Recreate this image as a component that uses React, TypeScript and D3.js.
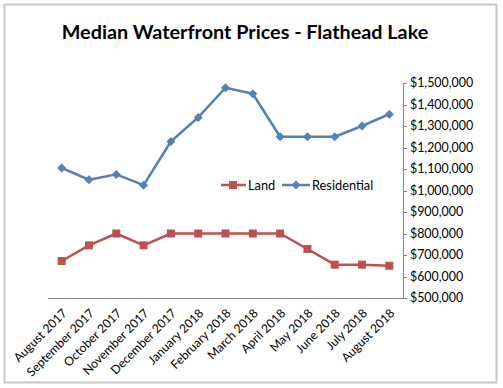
import React from "react";
import * as d3 from "d3";

const months = [
  "August 2017", "September 2017", "October 2017", "November 2017", "December 2017",
  "January 2018", "February 2018", "March 2018", "April 2018", "May 2018",
  "June 2018", "July 2018", "August 2018",
];
const landValues = [672000, 745000, 800000, 745000, 800000, 800000, 800000, 800000, 800000, 728000, 655000, 655000, 650000];
const residentialValues = [1105000, 1050000, 1075000, 1025000, 1228000, 1340000, 1478000, 1450000, 1250000, 1250000, 1250000, 1300000, 1355000];
const yTicks = [500000, 600000, 700000, 800000, 900000, 1000000, 1100000, 1200000, 1300000, 1400000, 1500000];

const W = 503, H = 388;
const LAND = "#C0504D", RES = "#4F81BD";

export default function App() {
  const x = d3.scaleBand<string>().domain(months).range([48, 403]);
  const y = d3.scaleLinear().domain([500000, 1500000]).range([298, 83]);
  const fmt = (v: number) => "$" + d3.format(",")(v);
  const line = d3.line<number>().x((_, i) => x(months[i])! + x.bandwidth() / 2).y(d => y(d));
  const cx = (i: number) => x(months[i])! + x.bandwidth() / 2;
  const font = "Lato, 'Open Sans', 'Noto Sans', sans-serif";
  const diamond = (px: number, py: number, r: number) => `M${px},${py - r}L${px + r},${py}L${px},${py + r}L${px - r},${py}Z`;
  return (
    <svg width={W} height={H} style={{ position: "absolute", left: 0, top: 0, background: "#fff" }} fontFamily={font}>
      <rect x={4.5} y={4.5} width={492} height={378} fill="#fff" stroke="#c8c8c8" strokeWidth={2} />
      <text x={245} y={38.5} textAnchor="middle" fontSize={19.8} fontWeight="bold" fill="#000">Median Waterfront Prices - Flathead Lake</text>
      {/* axes */}
      <line x1={48} x2={403} y1={298.5} y2={298.5} stroke="#868686" />
      <line x1={403.5} x2={403.5} y1={83} y2={298.5} stroke="#868686" />
      {yTicks.map(t => (
        <g key={t}>
          <line x1={403} x2={407} y1={Math.round(y(t)) + 0.5} y2={Math.round(y(t)) + 0.5} stroke="#868686" />
          <text x={410} y={y(t) + 4.3} fontSize={12.4} fill="#000">{fmt(t)}</text>
        </g>
      ))}
      {months.map((m, i) => (
        <text key={m} transform={`translate(${cx(i) + 3},${311}) rotate(-45)`} textAnchor="end" fontSize={12.2} fill="#000" dy="0.35em">{m}</text>
      ))}
      <path d={line(residentialValues)!} fill="none" stroke={RES} strokeWidth={2.5} strokeLinejoin="round" />
      {residentialValues.map((v, i) => <path key={i} d={diamond(cx(i), y(v), 4.5)} fill={RES} />)}
      <path d={line(landValues)!} fill="none" stroke={LAND} strokeWidth={2.5} strokeLinejoin="round" />
      {landValues.map((v, i) => <rect key={i} x={cx(i) - 4} y={y(v) - 4} width={8} height={8} fill={LAND} />)}
      {/* legend */}
      <line x1={221} x2={246} y1={185} y2={185} stroke={LAND} strokeWidth={2.5} />
      <rect x={229} y={181} width={8} height={8} fill={LAND} />
      <text x={248} y={189.5} fontSize={12.8} fill="#000">Land</text>
      <line x1={282} x2={310} y1={185} y2={185} stroke={RES} strokeWidth={2.5} />
      <path d={diamond(296, 185, 4.5)} fill={RES} />
      <text x={312} y={189.5} fontSize={12.8} fill="#000">Residential</text>
    </svg>
  );
}
